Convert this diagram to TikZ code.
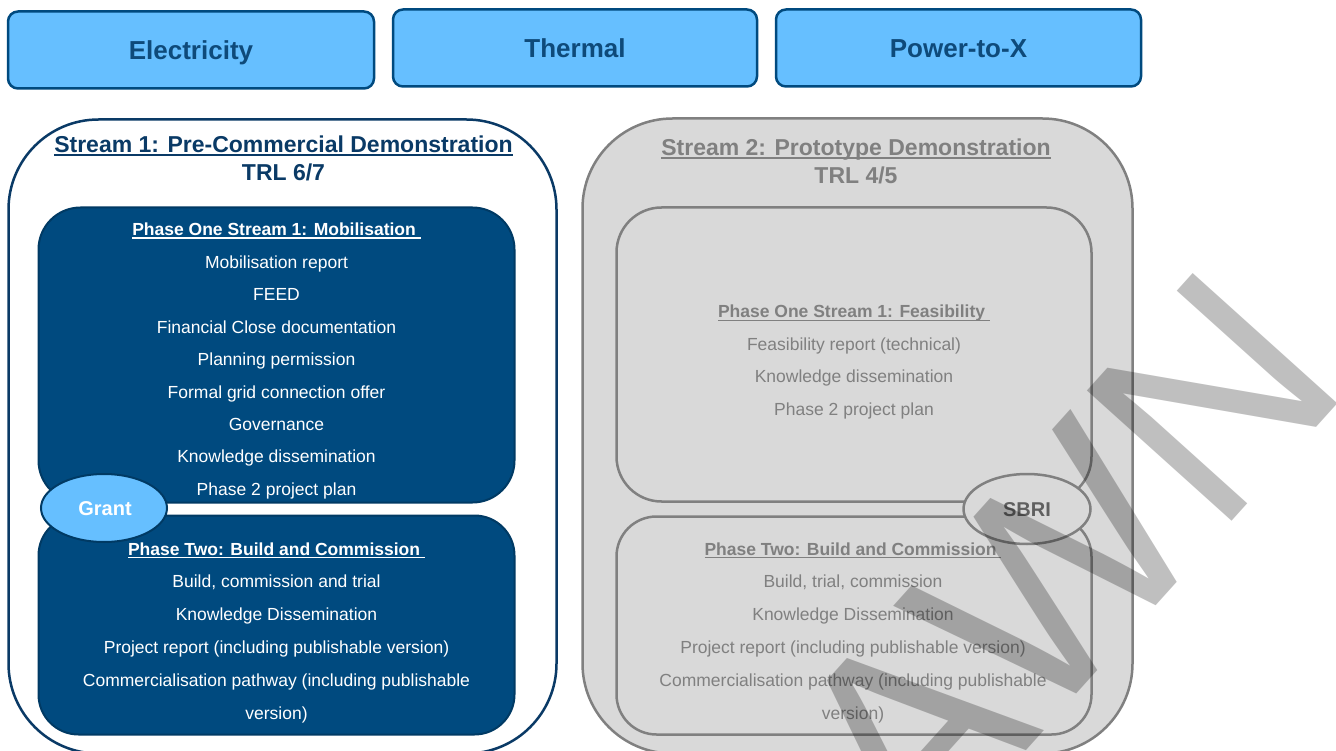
\documentclass[tikz,border=0pt]{standalone}
\usepackage{fontspec}
\setmainfont{Liberation Sans}
\usetikzlibrary{shapes.geometric}
\definecolor{navy}{RGB}{10,58,102}
\definecolor{dblue}{RGB}{0,74,127}
\definecolor{dbline}{RGB}{0,58,100}
\definecolor{lblue}{RGB}{102,191,255}
\definecolor{tblue}{RGB}{14,74,122}
\definecolor{gfill}{RGB}{217,217,217}
\definecolor{gline}{RGB}{128,128,128}
\definecolor{gtext}{RGB}{128,128,128}
\definecolor{gdark}{RGB}{96,96,96}
\newcommand{\ulbox}[3]{\setbox0=\hbox{#3}\rlap{\rule[-#1pt]{\wd0}{#2pt}}\box0}
\tikzset{
  topbox/.style={draw=dblue, line width=2.5pt, fill=lblue, rounded corners=10pt, minimum height=77pt, text=tblue, font=\fontsize{26}{30}\selectfont\bfseries, inner sep=0pt, text height=18.6pt, text depth=0pt},
  streambox/.style={line width=2.5pt, rounded corners=90pt, inner sep=0pt},
  phasebox/.style={line width=2pt, inner sep=0pt},
  body/.style={font=\fontsize{17.5}{20}\selectfont, inner sep=0pt, anchor=base},
  bodyb/.style={font=\fontsize{17.5}{20}\selectfont\bfseries, inner sep=0pt, anchor=base},
  stitle/.style={font=\fontsize{23}{26}\selectfont\bfseries, inner sep=0pt, anchor=base},
  fund/.style={ellipse, line width=2pt, inner sep=0pt, font=\fontsize{20}{24}\selectfont\bfseries},
  wmark/.style={text=black, text opacity=0.25, font=\fontsize{283}{300}\selectfont, inner sep=0pt}
}
\begin{document}
\begin{tikzpicture}[x=1pt, y=-1pt]
\useasboundingbox (0,0) rectangle (1336,751);
% top category boxes
\node[topbox, minimum width=366pt] (elec) at (191,50) {Electricity};
\node[topbox, minimum width=364pt] (therm) at (575,48) {Thermal};
\node[topbox, minimum width=365pt] (ptx) at (958.5,48) {Power-to-X};
% stream boxes
\node[streambox, draw=navy, fill=white, minimum width=548pt, minimum height=634pt] (s1) at (282.5,436.5) {};
\node[streambox, draw=gline, fill=gfill, minimum width=550pt, minimum height=635pt] (s2) at (857.5,436) {};
% phase boxes stream 1
\node[phasebox, draw=dbline, fill=dblue, rounded corners=42pt, minimum width=476pt, minimum height=295pt] (s1p1) at (276.5,355) {};
\node[phasebox, draw=dbline, fill=dblue, rounded corners=40pt, minimum width=476pt, minimum height=219pt] (s1p2) at (276.5,625) {};
% phase boxes stream 2
\node[phasebox, line width=2.5pt, draw=gline, fill=gfill, rounded corners=45pt, minimum width=475pt, minimum height=294pt] (s2p1) at (854,354.5) {};
\node[phasebox, line width=2.5pt, draw=gline, fill=gfill, rounded corners=40pt, minimum width=475pt, minimum height=218pt] (s2p2) at (854,625.5) {};
% funding ellipses
\node[fund, draw=dbline, fill=lblue, text=white, minimum width=126pt, minimum height=68pt] (grant) at (104,508) {};
\node[fund, line width=2.5pt, draw=gline, fill=gfill, text=gdark, minimum width=127pt, minimum height=70pt] (sbri) at (1027,509) {};
\node[font=\fontsize{20}{24}\selectfont\bfseries, text=white, inner sep=0pt] (grantlbl) at (105,509) {Grant};
\node[font=\fontsize{20}{24}\selectfont\bfseries, text=gdark, inner sep=0pt] (sbrilbl) at (1027,510) {SBRI};
% stream titles
\node[stitle, text=navy] (s1t) at (283.5,153) {\ulbox{3.5}{2}{Stream 1: Pre-Commercial Demonstration}};
\node[stitle, text=navy] (s1trl) at (283.5,181) {TRL 6/7};
\node[stitle, text=gtext] (s2t) at (856,156) {\ulbox{3.5}{2}{Stream 2: Prototype Demonstration}};
\node[stitle, text=gtext] (s2trl) at (856,184) {TRL 4/5};
% stream 1 phase one text
\node[bodyb, text=white] (s1p1t) at (276.5,236) {\ulbox{3}{1.5}{Phase One Stream 1: Mobilisation\ }};
\foreach \t [count=\i] in {{Mobilisation report},{FEED},{Financial Close documentation},{Planning permission},{Formal grid connection offer},{Governance},{Knowledge dissemination},{Phase 2 project plan}}
  \node[body, text=white] (s1p1l\i) at (276.5,236+\i*32.4) {\t};
% stream 1 phase two text
\node[bodyb, text=white] (s1p2t) at (276.5,555) {\ulbox{3}{1.5}{Phase Two: Build and Commission\ }};
\foreach \t [count=\i] in {{Build, commission and trial},{Knowledge Dissemination},{Project report (including publishable version)},{Commercialisation pathway (including publishable},{version)}}
  \node[body, text=white] (s1p2l\i) at (276.5,555+\i*32.8) {\t};
% stream 2 phase one text
\node[bodyb, text=gtext] (s2p1t) at (854,318) {\ulbox{3}{1.5}{Phase One Stream 1: Feasibility\ }};
\foreach \t [count=\i] in {{Feasibility report (technical)},{Knowledge dissemination},{Phase 2 project plan}}
  \node[body, text=gtext] (s2p1l\i) at (854,318+\i*32.4) {\t};
% stream 2 phase two text
\node[bodyb, text=gtext] (s2p2t) at (853,555) {\ulbox{3}{1.5}{Phase Two: Build and Commission\ }};
\foreach \t [count=\i] in {{Build, trial, commission},{Knowledge Dissemination},{Project report (including publishable version)},{Commercialisation pathway (including publishable},{version)}}
  \node[body, text=gtext] (s2p2l\i) at (853,555+\i*32.8) {\t};
% watermark
\node[wmark, rotate=48, anchor=base east] (wm) at (1353,387) {WITHDRAWN};
\end{tikzpicture}
\end{document}
